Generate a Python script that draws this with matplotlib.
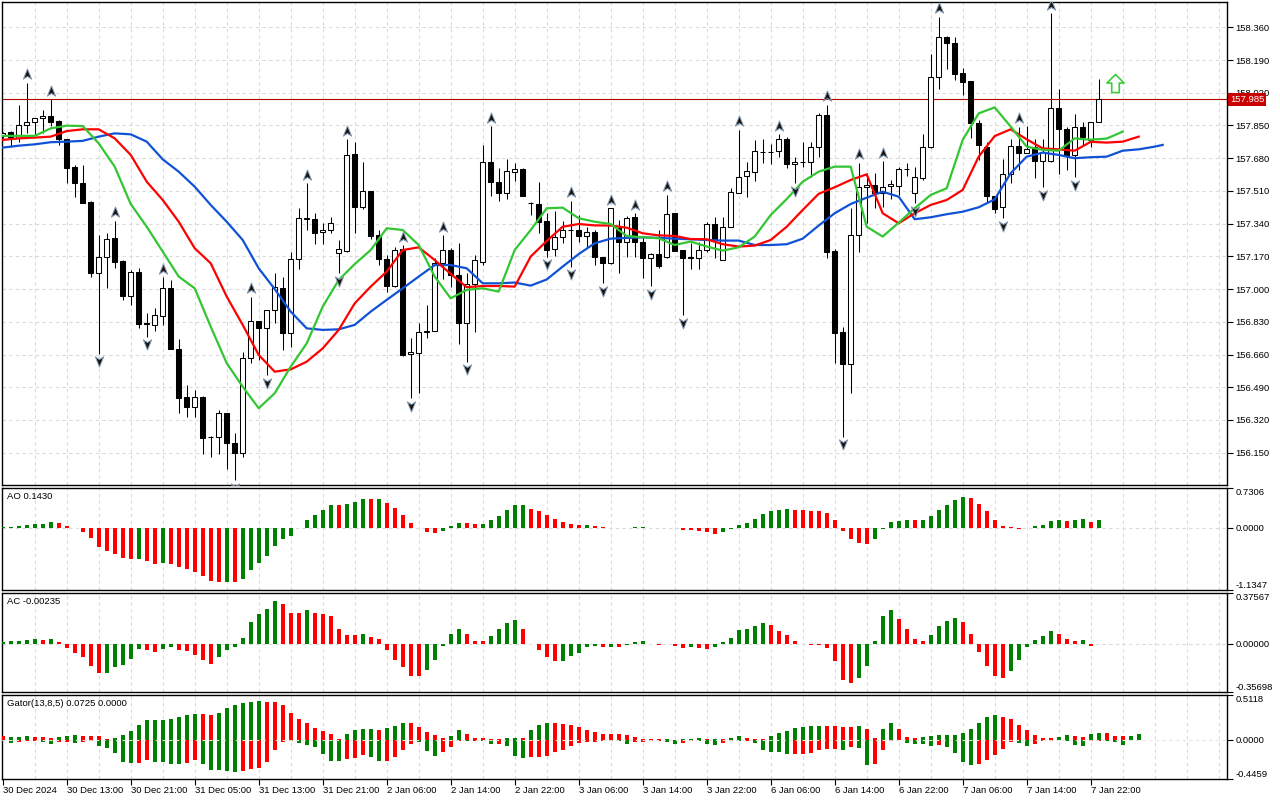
import matplotlib
matplotlib.use('Agg')
import matplotlib.pyplot as plt
from matplotlib.path import Path
from matplotlib import transforms

plt.rcParams['font.family'] = ['Liberation Sans', 'DejaVu Sans']
plt.rcParams['font.size'] = 6.8

# ---- price data (H1 bars) ----
opens = [157.795,157.815,157.783,157.851,157.866,157.887,157.898,157.873,157.778,157.636,
157.550,157.453,157.082,157.169,157.264,157.146,156.966,157.087,156.822,156.814,
156.862,157.004,156.689,156.441,156.386,156.441,156.232,156.230,156.355,156.199,
156.147,156.640,156.834,156.796,156.892,157.004,156.770,157.155,157.364,157.364,
157.295,157.307,157.186,157.200,157.702,157.425,157.510,157.281,157.155,157.018,
157.207,156.661,156.666,156.776,156.784,157.134,157.203,157.073,156.822,157.025,
157.143,157.659,157.558,157.498,157.610,157.622,157.447,157.442,157.356,157.207,
157.273,157.307,157.307,157.278,157.295,157.165,157.134,157.316,157.247,157.373,
157.247,157.160,157.182,157.165,157.394,157.203,157.165,157.163,157.203,157.338,
157.151,157.321,157.501,157.588,157.610,157.714,157.712,157.718,157.778,157.648,
157.660,157.660,157.737,157.905,157.200,156.779,156.609,157.281,157.529,157.541,
157.498,157.536,157.537,157.626,157.501,157.576,157.737,158.100,158.312,158.280,
158.121,158.081,157.861,157.740,157.484,157.428,157.598,157.743,157.709,157.740,
157.666,157.666,157.939,157.830,157.697,157.840,157.775,157.866]
highs = [157.815,157.820,157.957,158.073,157.890,157.930,157.986,157.879,157.782,157.645,
157.645,157.456,157.281,157.290,157.354,157.151,157.099,157.108,156.874,156.900,
157.061,157.047,156.740,156.502,156.476,156.445,156.239,156.372,156.358,156.251,
156.675,156.961,156.834,156.892,157.086,157.065,157.191,157.420,157.550,157.394,
157.345,157.373,157.255,157.778,157.766,157.659,157.510,157.307,157.177,157.217,
157.229,156.744,156.826,156.918,157.160,157.281,157.212,157.238,157.082,157.177,
157.749,157.847,157.628,157.674,157.653,157.628,157.454,157.558,157.394,157.406,
157.356,157.458,157.385,157.324,157.307,157.169,157.420,157.359,157.380,157.394,
157.273,157.189,157.307,157.489,157.394,157.203,157.238,157.243,157.347,157.373,
157.376,157.524,157.827,157.662,157.775,157.778,157.754,157.804,157.789,157.688,
157.766,157.766,157.914,157.957,157.207,156.805,157.420,157.657,157.602,157.602,
157.665,157.567,157.633,157.657,157.633,157.804,158.221,158.415,158.315,158.308,
158.150,158.081,157.879,157.766,157.484,157.674,157.778,157.844,157.848,157.778,
157.778,158.433,158.038,157.844,157.910,157.870,157.866,158.092]
lows = [157.785,157.740,157.766,157.813,157.800,157.813,157.848,157.749,157.553,157.480,
157.446,157.065,156.665,157.004,157.112,156.944,156.918,156.800,156.753,156.783,
156.814,156.687,156.358,156.338,156.334,156.144,156.130,156.144,156.064,156.008,
156.126,156.615,156.632,156.554,156.822,156.684,156.701,157.103,157.307,157.233,
157.233,157.290,157.082,157.195,157.290,157.415,157.259,157.126,156.987,157.010,
156.653,156.433,156.459,156.744,156.784,157.051,157.013,156.715,156.623,156.779,
157.126,157.484,157.458,157.468,157.563,157.486,157.385,157.290,157.169,157.172,
157.241,157.117,157.243,157.220,157.126,157.030,157.129,157.086,157.169,157.169,
157.056,157.016,157.112,157.160,157.200,156.866,157.103,157.103,157.195,157.163,
157.151,157.321,157.501,157.480,157.562,157.653,157.650,157.685,157.628,157.550,
157.636,157.582,157.688,157.160,156.618,156.234,156.462,157.191,157.342,157.420,
157.425,157.468,157.489,157.590,157.446,157.567,157.732,158.038,158.142,158.086,
158.008,157.783,157.671,157.446,157.394,157.368,157.553,157.619,157.706,157.575,
157.529,157.662,157.598,157.619,157.581,157.749,157.740,157.866]
closes = [157.810,157.792,157.851,157.866,157.887,157.901,157.870,157.778,157.631,157.550,
157.449,157.086,157.169,157.259,157.143,156.966,157.087,156.817,156.817,156.866,
157.004,156.689,156.436,156.386,156.441,156.225,156.230,156.355,156.199,156.147,
156.640,156.834,156.796,156.892,157.013,156.770,157.155,157.368,157.368,157.293,
157.307,157.342,157.207,157.697,157.428,157.510,157.278,157.155,157.018,157.203,
156.658,156.672,156.776,156.784,157.134,157.203,157.073,156.826,157.025,157.151,
157.659,157.558,157.498,157.616,157.622,157.486,157.446,157.350,157.203,157.273,
157.307,157.305,157.278,157.295,157.169,157.134,157.420,157.247,157.368,157.247,
157.160,157.182,157.122,157.389,157.200,157.163,157.163,157.203,157.338,157.259,
157.321,157.503,157.581,157.614,157.718,157.710,157.714,157.778,157.648,157.660,
157.661,157.737,157.905,157.195,156.774,156.609,157.281,157.529,157.541,157.498,
157.532,157.548,157.622,157.624,157.581,157.737,158.100,158.308,158.277,158.116,
158.078,157.861,157.749,157.484,157.416,157.598,157.743,157.709,157.726,157.667,
157.714,157.939,157.830,157.697,157.840,157.789,157.866,157.985]

last_price = 157.985

# fractal bars
frac_up = [3, 6, 14, 20, 31, 38, 43, 50, 55, 61, 71, 76, 79, 83, 92, 97, 103, 107, 110, 117, 127, 131]
frac_dn = [12, 18, 29, 33, 42, 51, 58, 68, 71, 75, 81, 85, 99, 105, 114, 125, 130, 134]

# signal arrow
signal_bar = 139
signal_price = 158.07

# alligator lines (every second bar, shifted lines run past the last bar)
jaw_idx = list(range(0, 145, 2)) + [145]
jaw = [157.735,157.745,157.752,157.763,157.766,157.770,157.792,157.809,157.804,157.766,
157.674,157.610,157.532,157.437,157.350,157.255,157.108,157.000,156.883,156.796,
156.788,156.791,156.814,156.883,156.944,157.004,157.065,157.125,157.125,157.108,
157.030,157.030,157.034,157.018,157.050,157.117,157.182,157.238,157.262,157.266,
157.269,157.266,157.262,157.259,157.255,157.252,157.252,157.229,157.229,157.233,
157.262,157.330,157.394,157.442,157.475,157.506,157.480,157.363,157.373,157.389,
157.402,157.425,157.466,157.602,157.688,157.709,157.697,157.680,157.685,157.688,
157.719,157.726,157.740,157.749]
teeth_idx = list(range(0, 143, 2))
teeth = [157.775,157.783,157.787,157.792,157.821,157.830,157.830,157.783,157.697,157.558,
157.463,157.350,157.212,157.134,156.961,156.814,156.658,156.571,156.583,156.623,
156.692,156.788,156.926,157.013,157.091,157.203,157.217,157.151,157.079,157.010,
157.016,157.016,157.013,157.169,157.250,157.324,157.338,157.331,157.330,157.319,
157.290,157.279,157.276,157.260,157.259,157.233,157.221,157.226,157.255,157.324,
157.411,157.495,157.529,157.567,157.596,157.394,157.342,157.394,157.437,157.463,
157.515,157.688,157.795,157.830,157.778,157.731,157.726,157.719,157.765,157.761,
157.766,157.792]
lips_idx = list(range(0, 141, 2))
lips = [157.796,157.796,157.796,157.835,157.849,157.847,157.757,157.636,157.442,157.324,
157.195,157.065,157.004,156.805,156.615,156.493,156.381,156.459,156.597,156.718,
156.909,157.047,157.130,157.203,157.316,157.307,157.229,157.065,156.952,156.996,
157.004,156.987,157.203,157.307,157.420,157.423,157.368,157.350,157.338,157.276,
157.269,157.264,157.229,157.247,157.221,157.200,157.217,157.273,157.385,157.468,
157.558,157.610,157.636,157.636,157.324,157.273,157.345,157.420,157.489,157.524,
157.775,157.913,157.944,157.844,157.740,157.723,157.719,157.783,157.776,157.782,
157.818]

# Awesome Oscillator
ao = [0.012,0.024,0.037,0.049,0.073,0.075,0.110,0.085,0.037,-0.006,
-0.067,-0.177,-0.348,-0.421,-0.476,-0.549,-0.573,-0.561,-0.604,-0.652,
-0.650,-0.659,-0.713,-0.744,-0.805,-0.878,-0.970,-0.988,-0.985,-0.990,
-0.927,-0.768,-0.634,-0.512,-0.329,-0.195,-0.146,-0.006,0.146,0.232,
0.329,0.421,0.420,0.439,0.476,0.524,0.523,0.525,0.457,0.366,
0.238,0.092,-0.006,-0.073,-0.085,-0.049,0.037,0.091,0.090,0.073,
0.074,0.146,0.220,0.329,0.420,0.422,0.348,0.311,0.238,0.165,
0.110,0.073,0.055,0.056,0.037,0.018,0.002,-0.003,0.004,0.018,
0.020,0.002,0.001,0.002,-0.004,-0.040,-0.045,-0.062,-0.082,-0.104,
-0.067,-0.024,0.049,0.098,0.165,0.256,0.311,0.329,0.345,0.329,
0.328,0.311,0.310,0.274,0.152,-0.055,-0.207,-0.280,-0.299,-0.195,
-0.012,0.110,0.134,0.146,0.145,0.147,0.220,0.329,0.421,0.512,
0.567,0.549,0.439,0.311,0.146,0.037,0.012,-0.024,-0.006,0.037,
0.055,0.134,0.152,0.134,0.153,0.165,0.116,0.143]
ao_col = ("ggggggg" "rrrrrrrrrr" "g" "rr" "g" "rrrrrrr" "g" "r" "gggggggggggg" "r"
          "ggg" "r" "g" "rrrrrrr" "ggg" "rr" "gggggg" "rrrrrrr" "g" "rrrr" "ggg" "rr"
          "g" "rrrrrr" "ggggggggg" "rrrrrrrrrr" "ggggg" "r" "gggggg" "rrrrrrr"
          "ggggg" "r" "gg" "r" "g")

# Accelerator Oscillator
ac = [0.012,0.022,0.022,0.027,0.037,0.029,0.037,0.015,-0.032,-0.071,
-0.100,-0.162,-0.220,-0.218,-0.174,-0.154,-0.110,-0.042,-0.049,-0.064,
-0.037,-0.027,-0.044,-0.056,-0.081,-0.123,-0.147,-0.100,-0.049,-0.022,
0.044,0.164,0.221,0.255,0.316,0.294,0.230,0.229,0.250,0.230,
0.221,0.206,0.110,0.066,0.065,0.074,0.049,0.037,-0.049,-0.118,
-0.174,-0.240,-0.241,-0.191,-0.123,-0.020,0.074,0.110,0.074,0.022,
0.017,0.059,0.110,0.157,0.176,0.110,-0.005,-0.049,-0.100,-0.130,
-0.128,-0.093,-0.071,-0.027,-0.020,-0.027,-0.025,-0.027,-0.012,0.012,
0.022,-0.005,-0.006,-0.004,-0.015,-0.032,-0.027,-0.032,-0.042,-0.027,
0.012,0.044,0.103,0.110,0.132,0.157,0.140,0.096,0.066,0.022,
-0.005,-0.010,-0.011,-0.034,-0.130,-0.265,-0.294,-0.257,-0.162,0.022,
0.206,0.250,0.184,0.110,0.037,0.017,0.066,0.132,0.169,0.191,
0.162,0.074,-0.059,-0.167,-0.240,-0.257,-0.203,-0.118,-0.027,0.029,
0.059,0.096,0.074,0.037,0.022,0.029,-0.020,-0.00235]
ac_col = ("ggggg" "r" "g" "rrrrrr" "ggggg" "rr" "gg" "rrrrr" "gggggggg" "rrr" "g"
          "rrrrrr" "g" "rrrrrrr" "ggggg" "rrr" "gggg" "rrrrr" "ggggg" "r" "g" "r"
          "ggg" "rr" "g" "rr" "g" "rr" "ggggggg" "rrrrrrrrrrr" "ggggg" "rrrr"
          "gggg" "rrrrrr" "gggggg" "rrr" "g" "r" "g")

# Gator oscillator (upper / lower histograms)
gator_up = [0.039,0.031,0.031,0.047,0.031,0.030,0.019,0.031,0.047,0.058,
0.047,0.046,0.045,0.012,0.019,0.058,0.105,0.175,0.222,0.223,
0.224,0.241,0.265,0.284,0.300,0.292,0.280,0.311,0.362,0.397,
0.420,0.428,0.440,0.428,0.427,0.397,0.311,0.241,0.195,0.136,
0.105,0.070,0.012,0.070,0.117,0.128,0.129,0.117,0.140,0.163,
0.198,0.187,0.152,0.093,0.058,0.023,0.047,0.113,0.070,0.023,
0.019,0.012,0.011,0.019,0.025,0.019,0.117,0.175,0.188,0.187,
0.186,0.167,0.148,0.117,0.093,0.070,0.069,0.068,0.058,0.031,
0.012,0.008,0.007,0.012,0.004,0.008,0.012,0.023,0.008,0.009,
0.006,0.023,0.039,0.019,0.012,0.005,0.039,0.082,0.105,0.136,
0.148,0.163,0.164,0.162,0.161,0.144,0.143,0.156,0.128,0.027,
0.128,0.187,0.128,0.035,0.019,0.035,0.050,0.058,0.059,0.060,
0.082,0.128,0.198,0.257,0.280,0.257,0.233,0.175,0.117,0.058,
0.023,0.022,0.035,0.058,0.047,0.035,0.070,0.082,0.081,0.047,
0.046,0.047,0.0725]
gator_up_col = ("r" "ggg" "rrr" "ggg" "rrrr" "ggggggggggg" "rr" "gggggg" "rrrrrrrrrr"
                "gggg" "r" "ggg" "rrrrr" "gg" "rrrrr" "gg" "r" "ggg" "rrrrrrrrrrrrrr"
                "g" "r" "ggg" "r" "g" "r" "gg" "rrr" "ggggggg" "rrrr" "g" "rr" "gg"
                "rrr" "gggggggggg" "rrrrrrr" "gg" "rr" "gg" "rrr" "gg")
gator_dn = [-0.010,-0.031,-0.019,-0.008,-0.008,-0.019,-0.047,-0.027,-0.019,-0.031,
-0.019,-0.018,-0.066,-0.089,-0.148,-0.253,-0.265,-0.264,-0.233,-0.253,
-0.254,-0.272,-0.280,-0.265,-0.226,-0.280,-0.339,-0.340,-0.350,-0.370,
-0.350,-0.331,-0.323,-0.253,-0.117,-0.027,-0.012,-0.031,-0.058,-0.078,
-0.160,-0.245,-0.246,-0.222,-0.206,-0.167,-0.195,-0.241,-0.240,-0.195,
-0.117,-0.047,-0.019,-0.125,-0.183,-0.136,-0.078,-0.008,-0.012,-0.008,
-0.012,-0.043,-0.043,-0.066,-0.183,-0.206,-0.195,-0.194,-0.183,-0.136,
-0.117,-0.066,-0.031,-0.019,-0.019,-0.012,-0.008,-0.012,-0.043,-0.027,
-0.019,-0.016,-0.008,-0.019,-0.050,-0.031,-0.008,-0.012,-0.043,-0.054,
-0.031,-0.008,-0.012,-0.008,-0.031,-0.117,-0.136,-0.137,-0.156,-0.157,
-0.156,-0.148,-0.117,-0.105,-0.104,-0.117,-0.078,-0.089,-0.288,-0.276,
-0.117,-0.012,-0.004,-0.031,-0.043,-0.043,-0.066,-0.054,-0.078,-0.148,
-0.253,-0.288,-0.276,-0.230,-0.171,-0.101,-0.020,-0.031,-0.066,-0.043,
-0.012,-0.008,-0.004,-0.008,-0.054,-0.066,-0.008,-0.008,-0.008,-0.020,
-0.054]
gator_dn_col = ("gg" "rrr" "gg" "rr" "g" "rr" "ggggg" "rr" "gggg" "rr" "ggggg" "rrrrrrr"
                "gggggg" "rrr" "gg" "rrrr" "ggg" "rrr" "g" "r" "gg" "r" "ggg"
                "rrrrrrrrrrr" "gg" "rrrr" "gg" "rr" "ggg" "rr" "g" "r" "ggggg" "rrrrrr"
                "g" "r" "gg" "rrrr" "gggg" "r" "gggg" "rrrrr" "gg" "rrrr" "ggg" "rr" "ggg")

price_ticks = [156.150, 156.320, 156.490, 156.660, 156.830, 157.000, 157.170,
               157.340, 157.510, 157.680, 157.850, 158.020, 158.190, 158.360]
time_idx = [0, 8, 16, 24, 32, 40, 48, 56, 64, 72, 80, 88, 96, 104, 112, 120, 128, 136]
time_labels = ['30 Dec 2024', '30 Dec 13:00', '30 Dec 21:00', '31 Dec 05:00', '31 Dec 13:00',
               '31 Dec 21:00', '2 Jan 06:00', '2 Jan 14:00', '2 Jan 22:00', '3 Jan 06:00',
               '3 Jan 14:00', '3 Jan 22:00', '6 Jan 06:00', '6 Jan 14:00', '6 Jan 22:00',
               '7 Jan 06:00', '7 Jan 14:00', '7 Jan 22:00']

assert len(ao_col) == len(ao) and len(ac_col) == len(ac)
assert len(gator_up_col) == len(gator_up) and len(gator_dn_col) == len(gator_dn)

GREEN = '#008000'
RED = '#FF0000'
GRID = '#DADADA'
col = {'g': GREEN, 'r': RED}

W, H = 1280, 800
fig = plt.figure(figsize=(12.8, 8), dpi=100)
fig.patch.set_facecolor('white')


def panel(top, bottom):
    return fig.add_axes([2 / W, 1 - bottom / H, 1225 / W, (bottom - top) / H])


ax = panel(2, 485)
ax_ao = panel(488, 590)
ax_ac = panel(593, 692)
ax_gt = panel(695, 779)
axes = [ax, ax_ao, ax_ac, ax_gt]

for a in axes:
    a.set_xlim(-0.09, 153.04)
    for s in a.spines.values():
        s.set_color('black')
        s.set_linewidth(1.0)
    for gx in range(4, 153, 4):
        a.axvline(gx, color=GRID, ls=(0, (3, 3)), lw=0.8, zorder=0)
    a.yaxis.tick_right()
    a.tick_params(axis='y', direction='out', length=4, width=0.8, pad=2, labelsize=6.8)
    a.tick_params(axis='x', bottom=False, labelbottom=False)

# ---- main price panel ----
ax.set_ylim(155.9823, 158.4914)
ax.set_yticks(price_ticks)
ax.set_yticklabels(['%.3f' % p for p in price_ticks])
for p in price_ticks:
    ax.axhline(p, color=GRID, ls=(0, (3, 3)), lw=0.8, zorder=0)

x = list(range(len(opens)))
ax.vlines(x, lows, highs, color='black', lw=0.75, zorder=2)
bottoms = [min(o, c) for o, c in zip(opens, closes)]
heights = [abs(c - o) for o, c in zip(opens, closes)]
faces = ['white' if c >= o else 'black' for o, c in zip(opens, closes)]
ax.bar(x, heights, bottom=bottoms, width=0.62, color=faces, edgecolor='black',
       linewidth=0.75, zorder=3)

ax.axhline(last_price, color='#B40000', lw=0.8, zorder=2)

ax.plot(jaw_idx, jaw, color='#1052D6', lw=1.6, zorder=4)
ax.plot(teeth_idx, teeth, color='#FF0000', lw=1.6, zorder=4)
ax.plot(lips_idx, lips, color='#33C633', lw=1.6, zorder=4)

up_path = Path([(0, 1), (0.75, -0.85), (0, -0.35), (-0.75, -0.85), (0, 1)],
               [Path.MOVETO, Path.LINETO, Path.LINETO, Path.LINETO, Path.CLOSEPOLY])
dn_path = Path([(0, -1), (0.75, 0.85), (0, 0.35), (-0.75, 0.85), (0, -1)],
               [Path.MOVETO, Path.LINETO, Path.LINETO, Path.LINETO, Path.CLOSEPOLY])
ax.plot(frac_up, [highs[i] + 0.044 for i in frac_up], ls='none', marker=up_path,
        ms=8, mfc='#151515', mec='#8A9BB0', mew=0.7, zorder=5)
ax.plot(frac_dn, [lows[i] - 0.040 for i in frac_dn], ls='none', marker=dn_path,
        ms=8, mfc='#151515', mec='#8A9BB0', mew=0.7, zorder=5)

sig_path = Path([(0, 1), (0.95, 0.05), (0.42, 0.05), (0.42, -1), (-0.42, -1),
                 (-0.42, 0.05), (-0.95, 0.05), (0, 1)],
                [Path.MOVETO] + [Path.LINETO] * 6 + [Path.CLOSEPOLY])
ax.plot([signal_bar], [signal_price], ls='none', marker=sig_path, ms=13,
        mfc='white', mec='#3CCB3C', mew=1.2, zorder=5)

# current price tag on the right scale (covers part of the 158.020 label, as in MT5)
trans = transforms.blended_transform_factory(ax.transAxes, ax.transData)
ax.text(1.0025, last_price, '%.3f' % last_price, transform=trans, ha='left', va='center',
        color='white', fontsize=6.8, zorder=10, clip_on=False,
        bbox=dict(boxstyle='square,pad=0.18', fc='#C80000', ec='none'))

# ---- AO ----
ax_ao.set_ylim(-1.1347, 0.7306)
ax_ao.axhline(0, color=GRID, ls=(0, (3, 3)), lw=0.8, zorder=1)
ax_ao.bar(range(len(ao)), ao, width=0.5, color=[col[c] for c in ao_col], zorder=3)
ax_ao.set_yticks([-1.1347, 0.0, 0.7306])
ax_ao.set_yticklabels(['-1.1347', '0.0000', '0.7306'])
ax_ao.annotate('AO %.4f' % ao[-1], xy=(0, 1), xycoords='axes fraction', xytext=(5, -4),
               textcoords='offset pixels', ha='left', va='top', fontsize=6.8)

# ---- AC ----
ax_ac.set_ylim(-0.35698, 0.37567)
ax_ac.axhline(0, color=GRID, ls=(0, (3, 3)), lw=0.8, zorder=1)
ax_ac.bar(range(len(ac)), ac, width=0.5, color=[col[c] for c in ac_col], zorder=3)
ax_ac.set_yticks([-0.35698, 0.0, 0.37567])
ax_ac.set_yticklabels(['-0.35698', '0.00000', '0.37567'])
ax_ac.annotate('AC %.5f' % ac[-1], xy=(0, 1), xycoords='axes fraction', xytext=(5, -4),
               textcoords='offset pixels', ha='left', va='top', fontsize=6.8)

# ---- Gator ----
ax_gt.set_ylim(-0.4459, 0.5118)
ax_gt.bar(range(len(gator_up)), gator_up, width=0.5,
          color=[col[c] for c in gator_up_col], zorder=3)
ax_gt.bar(range(len(gator_dn)), gator_dn, width=0.5,
          color=[col[c] for c in gator_dn_col], zorder=3)
ax_gt.axhline(0, color='#E4E4E4', ls=(0, (3, 3)), lw=0.8, zorder=4)
ax_gt.set_yticks([-0.4459, 0.0, 0.5118])
ax_gt.set_yticklabels(['-0.4459', '0.0000', '0.5118'])
ax_gt.annotate('Gator(13,8,5) %.4f %.4f' % (gator_up[-1], 0.0), xy=(0, 1),
               xycoords='axes fraction', xytext=(5, -4), textcoords='offset pixels',
               ha='left', va='top', fontsize=6.8)

for a in [ax_ao, ax_ac, ax_gt]:
    labs = a.get_yticklabels()
    labs[0].set_va('bottom')
    labs[-1].set_va('top')

ax_gt.set_xticks(time_idx)
ax_gt.set_xticklabels(time_labels)
ax_gt.tick_params(axis='x', bottom=True, labelbottom=True, direction='out', length=4,
                  width=0.8, pad=1, labelsize=6.8)
for lab in ax_gt.get_xticklabels():
    lab.set_ha('left')

fig.savefig('out.png', dpi=100, facecolor='white')
